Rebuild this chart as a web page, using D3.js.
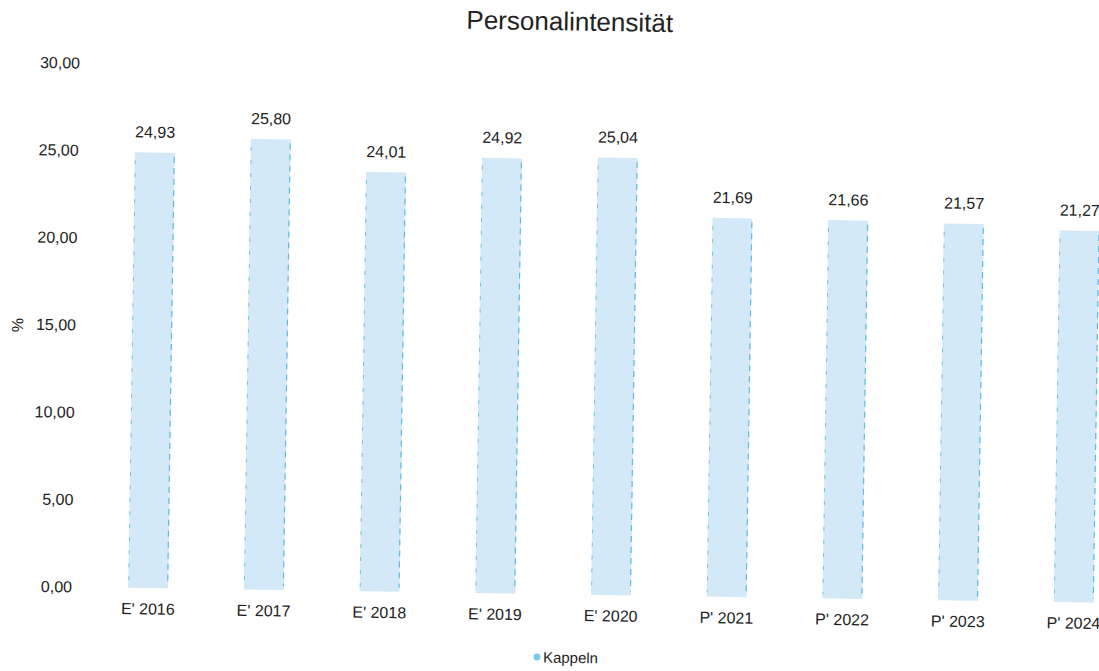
<!DOCTYPE html>
<html>
<head>
<meta charset="utf-8">
<script src="https://cdn.jsdelivr.net/npm/d3@7"></script>
<style>
  html, body { margin: 0; padding: 0; background: #ffffff; }
  svg { display: block; }
  text { font-family: "Liberation Sans", Arial, sans-serif; fill: #222; }
</style>
</head>
<body>
<svg id="chart" width="1099" height="671"></svg>
<script>
// Personalintensität (%) – Kappeln
const categories = ["E' 2016", "E' 2017", "E' 2018", "E' 2019", "E' 2020", "P' 2021", "P' 2022", "P' 2023", "P' 2024"];
const values = [24.93, 25.80, 24.01, 24.92, 25.04, 21.69, 21.66, 21.57, 21.27];
const yTicks = [0, 5, 10, 15, 20, 25, 30];
const seriesName = "Kappeln";
const chartTitle = "Personalintensität";
const yTitle = "%";

const fmt = v => d3.format(".2f")(v).replace(".", ",");

const svg = d3.select("#chart");
// the printed page sits slightly tilted
const g = svg.append("g").attr("transform", "rotate(0.88, 148, 589)");

const x = d3.scaleBand().domain(categories).range([90, 1132]).paddingInner(0.655).paddingOuter(0.33);
const y = d3.scaleLinear().domain([0, 30]).range([588, 64]);

// title
g.append("text")
  .attr("x", 561).attr("y", 24)
  .attr("text-anchor", "middle")
  .style("font-size", "26px")
  .text(chartTitle);

// y axis labels (no axis line)
const yAxis = d3.axisLeft(y).tickValues(yTicks).tickFormat(fmt).tickSize(0).tickPadding(0);
const yg = g.append("g").attr("transform", "translate(72,0)").call(yAxis);
yg.select(".domain").remove();
yg.selectAll("text")
  .style("font-size", "16px")
  .style("font-family", "'Liberation Sans', Arial, sans-serif")
  .attr("fill", "#222");

// y title
g.append("text")
  .attr("transform", "translate(19,327) rotate(-90)")
  .attr("text-anchor", "middle")
  .style("font-size", "16px")
  .text(yTitle);

// bars
const bars = g.append("g").selectAll("g.bar").data(values).join("g").attr("class", "bar");
bars.append("rect")
  .attr("x", (d, i) => x(categories[i]))
  .attr("y", d => y(d))
  .attr("width", x.bandwidth())
  .attr("height", d => y(0) - y(d))
  .attr("fill", "#d3e9f8");
bars.append("line")
  .attr("x1", (d, i) => x(categories[i]) + 0.5)
  .attr("x2", (d, i) => x(categories[i]) + 0.5)
  .attr("y1", d => y(d) + 8)
  .attr("y2", y(0) - 4)
  .attr("stroke", "#5fb9e2").attr("stroke-width", 1)
  .attr("stroke-dasharray", "4,9").attr("opacity", 0.8);
bars.append("line")
  .attr("x1", (d, i) => x(categories[i]) + x.bandwidth() - 0.5)
  .attr("x2", (d, i) => x(categories[i]) + x.bandwidth() - 0.5)
  .attr("y1", d => y(d) + 4)
  .attr("y2", y(0) - 4)
  .attr("stroke", "#4fb0df").attr("stroke-width", 1.2)
  .attr("stroke-dasharray", "6,5").attr("opacity", 0.85);

// value labels
g.append("g").selectAll("text").data(values).join("text")
  .attr("x", (d, i) => x(categories[i]) + x.bandwidth() / 2)
  .attr("y", d => y(d) - 15)
  .attr("text-anchor", "middle")
  .style("font-size", "16px")
  .text(d => fmt(d));

// category labels
const xAxis = d3.axisBottom(x).tickSize(0).tickPadding(0);
const xg = g.append("g").attr("transform", "translate(0,603)").call(xAxis);
xg.select(".domain").remove();
xg.selectAll("text")
  .style("font-size", "16px")
  .style("font-family", "'Liberation Sans', Arial, sans-serif")
  .attr("fill", "#222");

// legend
const legend = g.append("g").attr("transform", "translate(538,651)");
legend.append("circle").attr("r", 3.5).attr("fill", "#7cc8ee");
legend.append("text")
  .attr("x", 6).attr("y", 5.5)
  .style("font-size", "15px")
  .text(seriesName);
</script>
</body>
</html>
